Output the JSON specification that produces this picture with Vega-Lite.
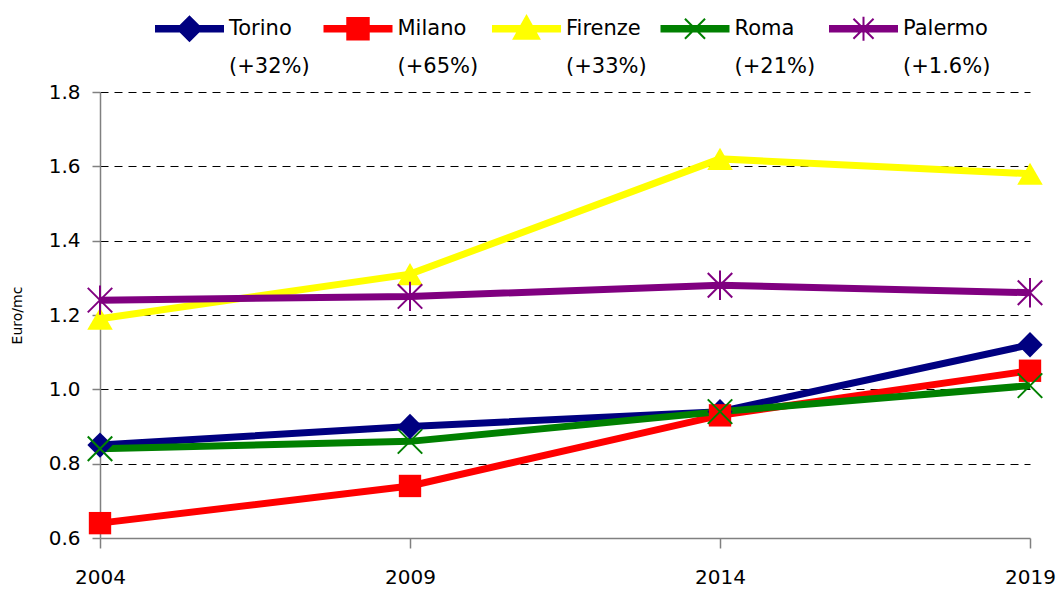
{
  "$schema": "https://vega.github.io/schema/vega-lite/v6.json",
  "width": 930,
  "height": 446,
  "autosize": {"type": "none"},
  "padding": {"left": 100, "top": 92, "right": 28, "bottom": 56},
  "background": "white",
  "config": {"font": "DejaVu Sans", "view": {"stroke": null}},
  "data": {
    "values": [
      {"city": "Torino", "year": 2004, "value": 0.85},
      {"city": "Torino", "year": 2009, "value": 0.90},
      {"city": "Torino", "year": 2014, "value": 0.94},
      {"city": "Torino", "year": 2019, "value": 1.12},
      {"city": "Milano", "year": 2004, "value": 0.64},
      {"city": "Milano", "year": 2009, "value": 0.74},
      {"city": "Milano", "year": 2014, "value": 0.93},
      {"city": "Milano", "year": 2019, "value": 1.05},
      {"city": "Firenze", "year": 2004, "value": 1.19},
      {"city": "Firenze", "year": 2009, "value": 1.31},
      {"city": "Firenze", "year": 2014, "value": 1.62},
      {"city": "Firenze", "year": 2019, "value": 1.58},
      {"city": "Roma", "year": 2004, "value": 0.84},
      {"city": "Roma", "year": 2009, "value": 0.86},
      {"city": "Roma", "year": 2014, "value": 0.94},
      {"city": "Roma", "year": 2019, "value": 1.01},
      {"city": "Palermo", "year": 2004, "value": 1.24},
      {"city": "Palermo", "year": 2009, "value": 1.25},
      {"city": "Palermo", "year": 2014, "value": 1.28},
      {"city": "Palermo", "year": 2019, "value": 1.26}
    ]
  },
  "encoding": {
    "x": {
      "field": "year",
      "type": "quantitative",
      "scale": {"domain": [2004, 2019], "nice": false, "zero": false},
      "axis": {
        "values": [2004, 2009, 2014, 2019],
        "format": "d",
        "title": null,
        "grid": false,
        "labelFontSize": 20,
        "labelColor": "black",
        "labelPadding": 19,
        "labelFlush": false,
        "tickSize": 10,
        "tickColor": "#808080",
        "tickWidth": 1.5,
        "domainColor": "#808080",
        "domainWidth": 1.5
      }
    },
    "y": {
      "field": "value",
      "type": "quantitative",
      "scale": {"domain": [0.6, 1.8], "nice": false, "zero": false},
      "axis": {
        "values": [0.6, 0.8, 1.0, 1.2, 1.4, 1.6, 1.8],
        "format": ".1f",
        "title": "Euro/mc",
        "titleFontSize": 14,
        "titleFontWeight": "normal",
        "titleColor": "black",
        "titlePadding": 24,
        "grid": true,
        "gridColor": {"condition": {"test": "datum.value <= 0.6", "value": "transparent"}, "value": "black"},
        "gridDash": [8, 6],
        "gridWidth": 1,
        "labelFontSize": 20,
        "labelColor": "black",
        "labelPadding": 12,
        "tickSize": 8,
        "tickColor": "#808080",
        "tickWidth": 1.5,
        "domainColor": "#808080",
        "domainWidth": 1.5
      }
    }
  },
  "layer": [
    {
      "mark": {"type": "line", "strokeWidth": 7},
      "encoding": {
        "color": {
          "field": "city",
          "type": "nominal",
          "scale": {
            "domain": ["Torino", "Milano", "Firenze", "Roma", "Palermo"],
            "range": ["#000080", "#FF0000", "#FFFF00", "#008000", "#800080"]
          },
          "legend": {
            "orient": "none",
            "legendX": 55,
            "legendY": -98,
            "direction": "horizontal",
            "columns": 5,
            "gridAlign": "all",
            "columnPadding": 3.5,
            "padding": 0,
            "title": null,
            "symbolSize": 4489,
            "labelFontSize": 21,
            "labelColor": "black",
            "labelOffset": 5,
            "labelLimit": 0,
            "labelExpr": "datum.label === 'Torino' ? ['Torino', '(+32%)'] : datum.label === 'Milano' ? ['Milano', '(+65%)'] : datum.label === 'Firenze' ? ['Firenze', '(+33%)'] : datum.label === 'Roma' ? ['Roma', '(+21%)'] : ['Palermo', '(+1.6%)']",
            "encode": {
              "symbols": {
                "update": {
                  "shape": {"signal": "datum.value === 'Torino' ? 'M-1,-0.08L1,-0.08L1,0.08L-1,0.08ZM-0.36,0L0,-0.36L0.36,0L0,0.36Z' : datum.value === 'Milano' ? 'M-1,-0.08L1,-0.08L1,0.08L-1,0.08ZM-0.32,-0.32L0.32,-0.32L0.32,0.32L-0.32,0.32Z' : datum.value === 'Firenze' ? 'M-1,-0.08L1,-0.08L1,0.08L-1,0.08ZM0,-0.38L0.38,0.3L-0.38,0.3Z' : datum.value === 'Roma' ? 'M-1,-0.08L1,-0.08L1,0.08L-1,0.08ZM-0.3,-0.3L0.3,0.3M-0.3,0.3L0.3,-0.3' : 'M-1,-0.08L1,-0.08L1,0.08L-1,0.08ZM-0.3,-0.3L0.3,0.3M-0.3,0.3L0.3,-0.3M0,-0.36L0,0.36'"},
                  "fill": {"signal": "datum.value === 'Torino' ? '#000080' : datum.value === 'Milano' ? '#FF0000' : datum.value === 'Firenze' ? '#FFFF00' : datum.value === 'Roma' ? '#008000' : '#800080'"},
                  "stroke": {"signal": "datum.value === 'Torino' ? '#000080' : datum.value === 'Milano' ? '#FF0000' : datum.value === 'Firenze' ? '#FFFF00' : datum.value === 'Roma' ? '#008000' : '#800080'"},
                  "strokeWidth": {"value": 2},
                  "opacity": {"value": 1},
                  "fillOpacity": {"value": 1},
                  "strokeOpacity": {"value": 1}
                }
              },
              "labels": {
                "update": {
                  "lineHeight": {"value": 38}
                }
              }
            }
          }
        }
      }
    },
    {
      "transform": [{"filter": "datum.city === 'Torino'"}],
      "mark": {"type": "point", "filled": true, "opacity": 1, "shape": "diamond", "size": 640, "color": "#000080"}
    },
    {
      "transform": [{"filter": "datum.city === 'Milano'"}],
      "mark": {"type": "point", "filled": true, "opacity": 1, "shape": "square", "size": 500, "color": "#FF0000"}
    },
    {
      "transform": [{"filter": "datum.city === 'Firenze'"}],
      "mark": {"type": "point", "filled": true, "opacity": 1, "shape": "triangle-up", "size": 650, "color": "#FFFF00"}
    },
    {
      "transform": [{"filter": "datum.city === 'Roma'"}],
      "mark": {"type": "point", "filled": false, "opacity": 1, "shape": "M-1,-1L1,1M-1,1L1,-1", "size": 600, "strokeWidth": 2, "color": "#008000"}
    },
    {
      "transform": [{"filter": "datum.city === 'Palermo'"}],
      "mark": {"type": "point", "filled": false, "opacity": 1, "shape": "M-1,-1L1,1M-1,1L1,-1M0,-1.2L0,1.2", "size": 600, "strokeWidth": 2, "color": "#800080"}
    }
  ]
}
